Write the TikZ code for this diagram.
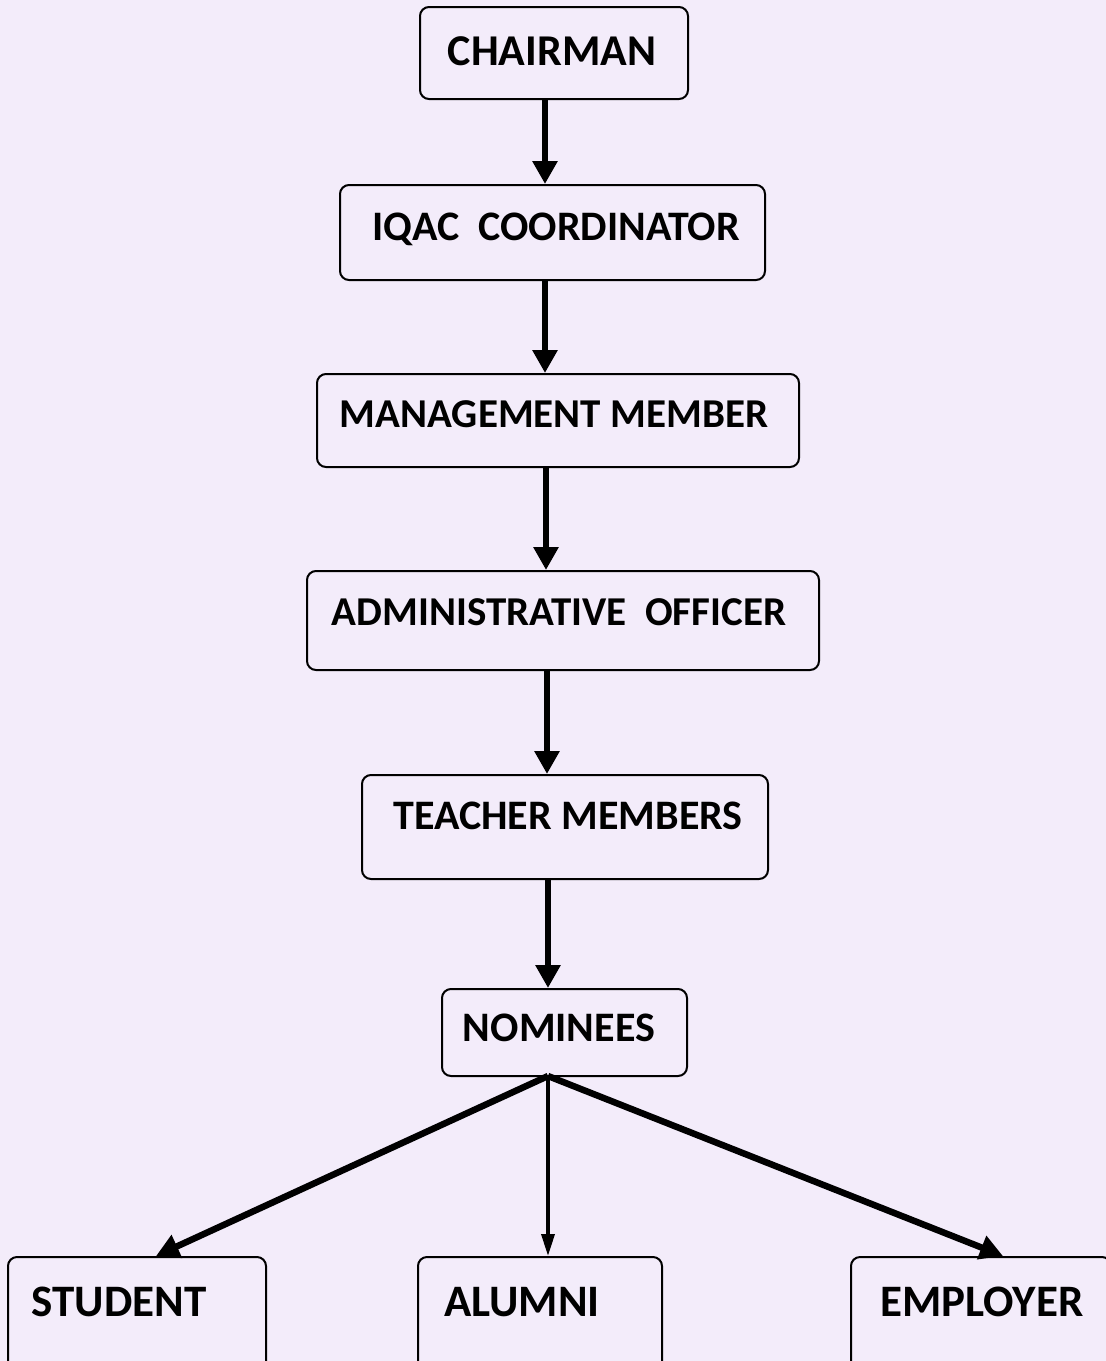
\documentclass[tikz,border=0pt]{standalone}
\usepackage{fontspec}
\setmainfont{Carlito}
\usetikzlibrary{arrows.meta}
\definecolor{paper}{RGB}{243,236,250}
\tikzset{
  x=1pt, y=-1pt,
  box/.style={draw=black, line width=2pt, rounded corners=9pt, fill=paper, inner sep=0pt},
  lbl/.style={inner sep=0pt, anchor=base, font=\fontsize{42}{48}\selectfont\bfseries},
  biglbl/.style={lbl, font=\fontsize{45}{50}\selectfont\bfseries},
  arr/.style={line width=6.5pt, -{Triangle[length=23pt, width=24pt]}},
  thinarr/.style={line width=3.5pt, -{Triangle[length=22pt, width=13pt]}},
}
\begin{document}
\begin{tikzpicture}
\useasboundingbox (0,0) rectangle (1106,1361);
\fill[paper] (0,0) rectangle (1106,1361);
% boxes
\node[box, minimum width=268pt, minimum height=92pt] (chair) at (554,53) {};
\node[box, minimum width=425pt, minimum height=95pt] (iqac) at (552.5,232.5) {};
\node[box, minimum width=482pt, minimum height=93pt] (mgmt) at (558,420.5) {};
\node[box, minimum width=512pt, minimum height=99pt] (admin) at (563,620.5) {};
\node[box, minimum width=406pt, minimum height=104pt] (teach) at (565,827) {};
\node[box, minimum width=245pt, minimum height=87pt] (nom) at (564.5,1032.5) {};
\node[box, minimum width=258pt, minimum height=120pt] (stud) at (137,1317) {};
\node[box, minimum width=244pt, minimum height=120pt] (alum) at (540,1317) {};
\node[box, minimum width=260pt, minimum height=120pt] (empl) at (981,1317) {};
% labels
\node[lbl, font=\fontsize{44}{50}\selectfont\bfseries] (tchair) at (552,65) {CHAIRMAN};
\node[lbl] (tiqac) at (556,240) {IQAC\ \ COORDINATOR};
\node[lbl, font=\fontsize{41}{48}\selectfont\bfseries] (tmgmt) at (554,427) {MANAGEMENT MEMBER};
\node[lbl, font=\fontsize{41}{48}\selectfont\bfseries] (tadmin) at (559,625) {ADMINISTRATIVE\ \ OFFICER};
\node[lbl] (tteach) at (568,829) {TEACHER MEMBERS};
\node[lbl] (tnom) at (559,1041) {NOMINEES};
\node[biglbl] (tstud) at (119,1316) {STUDENT};
\node[biglbl] (talum) at (522,1316) {ALUMNI};
\node[biglbl] (templ) at (982,1316) {EMPLOYER};
% connectors
\coordinate (split) at (548,1076);
\draw[arr] (chair.south -| 545,0) -- (iqac.north -| 545,0);
\draw[arr] (iqac.south -| 545,0) -- (mgmt.north -| 545,0);
\draw[arr] (mgmt.south -| 546,0) -- (admin.north -| 546,0);
\draw[arr] (admin.south -| 547,0) -- (teach.north -| 547,0);
\draw[arr] (teach.south -| 548,0) -- (nom.north -| 548,0);
\draw[arr] (split) -- (stud.north -| 156,0);
\draw[thinarr] (split) -- (alum.north -| 548,0);
\draw[arr] (split) -- (empl.north -| 1003,0);
\end{tikzpicture}
\end{document}
